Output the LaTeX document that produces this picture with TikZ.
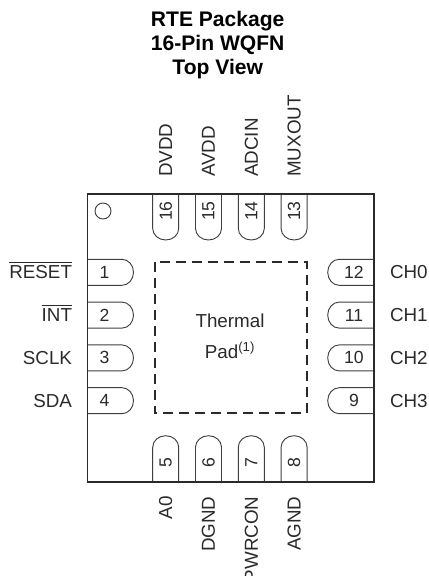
\documentclass[tikz,border=0pt]{standalone}
\usepackage{fontspec}
\setmainfont{Liberation Sans}
\definecolor{ink}{HTML}{2A2A2A}
\tikzset{
  pinline/.style={draw=ink!90!white,line width=0.7pt},
  body/.style={draw=ink,line width=1.35pt},
  padline/.style={draw=ink,line width=1.5pt,dash pattern=on 7.5pt off 4.5pt},
  lab/.style={inner sep=0pt,outer sep=0pt,text=ink,font=\fontsize{14.1}{16}\selectfont},
  num/.style={inner sep=0pt,outer sep=0pt,text=ink,anchor=center,font=\fontsize{13.2}{15}\selectfont},
  ttl/.style={inner sep=0pt,text=black,anchor=base,font=\fontsize{15.8}{18}\bfseries\selectfont},
}
\begin{document}
\begin{tikzpicture}[x=0.75pt,y=-0.75pt]
\useasboundingbox (0,0) rectangle (429,576);
\clip (0,0) rectangle (429,576);
% title
\node[ttl] (t1) at (217.7,26.7) {RTE Package};
\node[ttl] (t2) at (217.7,50.7) {16-Pin WQFN};
\node[ttl] (t3) at (217.7,74.7) {Top View};
% pins, left and right
\foreach \c/\n/\m in {272.3/1/12,315.1/2/11,357.9/3/10,400.7/4/9}{
  \draw[pinline] (87.5,\c-13) -- (122,\c-13) arc[start angle=-90,end angle=90,x radius=11.5,y radius=13] -- (87.5,\c+13);
  \draw[pinline] (373.7,\c-13) -- (339.2,\c-13) arc[start angle=270,end angle=90,x radius=11.5,y radius=13] -- (373.7,\c+13);
  \node[num] (pl\n) at (104.5,\c) {\n};
  \node[num] (pr\m) at (354,\c) {\m};
}
% pins, top and bottom
\foreach \c/\n/\m in {165.7/16/5,208.5/15/6,251.3/14/7,294.1/13/8}{
  \draw[pinline] (\c-13,193.7) -- (\c-13,228.5) arc[start angle=180,end angle=0,x radius=13,y radius=11.5] -- (\c+13,193.7);
  \draw[pinline] (\c-13,482) -- (\c-13,447.2) arc[start angle=180,end angle=0,x radius=13,y radius=-11.5] -- (\c+13,482);
  \node[num,rotate=90] (pt\n) at (\c,211) {\n};
  \node[num,rotate=90] (pb\m) at (\c,463) {\m};
}
% package
\draw[body] (87.5,193.7) rectangle (373.7,482);
\draw[pinline] (103,211) circle[radius=8];
\draw[padline] (154.5,261.7) rectangle (306.5,413.3);
\node[lab,anchor=base] (th1) at (230,327.7) {Thermal};
\node[lab,anchor=base] (th2) at (230,358) {Pad\textsuperscript{(1)}};
% left labels
\node[lab,anchor=base east] (l1) at (72,278.7) {$\overline{\hbox{\rule{0pt}{0.79em}RESET}}$};
\node[lab,anchor=base east] (l2) at (72,321.5) {$\overline{\hbox{\rule{0pt}{0.79em}INT}}$};
\node[lab,anchor=base east] (l3) at (72,364.3) {SCLK};
\node[lab,anchor=base east] (l4) at (72,407.1) {SDA};
% right labels
\foreach \y/\t/\i in {278.7/CH0/0,321.5/CH1/1,364.3/CH2/2,407.1/CH3/3}{
  \node[lab,anchor=base west] (r\i) at (390,\y) {\t};
}
% top labels
\foreach \x/\t in {165.7/DVDD,208.5/AVDD,251.3/ADCIN,294.1/MUXOUT}{
  \node[lab,rotate=90,anchor=west] (top\t) at (\x,176.7) {\t};
}
% bottom labels
\foreach \x/\t in {165.7/A0,208.5/DGND,251.3/PWRCON,294.1/AGND}{
  \node[lab,rotate=90,anchor=east] (bot\t) at (\x,496.5) {\t};
}
\end{tikzpicture}
\end{document}
